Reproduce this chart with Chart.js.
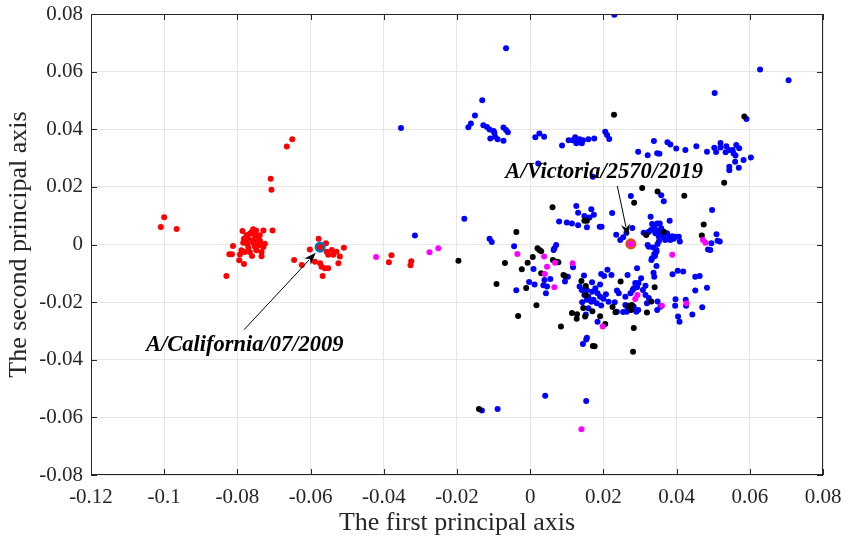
<!DOCTYPE html>
<html>
<head>
<meta charset="utf-8">
<script src="https://cdn.jsdelivr.net/npm/chart.js@4"></script>
<style>
  html, body { margin: 0; padding: 0; background: #fff; }
  #wrap { width: 846px; height: 541px; }
</style>
</head>
<body>
<div id="wrap"><canvas id="pcaChart" width="846" height="541"></canvas></div>
<script>
// axis ticks
const xTicks = [-0.12, -0.1, -0.08, -0.06, -0.04, -0.02, 0, 0.02, 0.04, 0.06, 0.08];
const xTickLabels = ['-0.12', '-0.1', '-0.08', '-0.06', '-0.04', '-0.02', '0', '0.02', '0.04', '0.06', '0.08'];
const yTicks = [-0.08, -0.06, -0.04, -0.02, 0, 0.02, 0.04, 0.06, 0.08];
const yTickLabels = ['-0.08', '-0.06', '-0.04', '-0.02', '0', '0.02', '0.04', '0.06', '0.08'];

// highlighted strains
const californiaPoint = [-0.0574, -0.0009];
const victoriaPoint = [0.0275, 0.0002];

// series, [first axis, second axis]
const redPoints = [
  [-0.0650,0.0365],[-0.0665,0.0340],[-0.0709,0.0228],[-0.0707,0.0190],
  [-0.1000,0.0095],[-0.1009,0.0061],[-0.0966,0.0054],
  [-0.0786,0.0047],[-0.0757,0.0053],[-0.0749,0.0049],[-0.0729,0.0049],[-0.0704,0.0049],
  [-0.0775,0.0032],[-0.0766,0.0037],[-0.0752,0.0032],[-0.0739,0.0032],
  [-0.0782,0.0020],[-0.0771,0.0020],[-0.0758,0.0015],[-0.0743,0.0020],
  [-0.0725,0.0003],[-0.0784,0.0006],[-0.0773,0.0003],[-0.0757,0.0006],[-0.0740,-0.0003],[-0.0729,-0.0009],
  [-0.0812,-0.0005],[-0.0789,-0.0020],[-0.0780,-0.0026],[-0.0766,-0.0026],[-0.0748,-0.0020],[-0.0734,-0.0026],
  [-0.0822,-0.0034],[-0.0815,-0.0034],[-0.0793,-0.0035],[-0.0734,-0.0041],[-0.0795,-0.0055],[-0.0782,-0.0068],[-0.0830,-0.0109],
  [-0.0762,0.0042],[-0.0745,0.0010],[-0.0770,-0.0010],[-0.0752,-0.0008],[-0.0738,0.0012],[-0.0760,-0.0040],
  [-0.0578,0.0020],[-0.0558,0.0004],[-0.0602,-0.0017],[-0.0509,-0.0011],[-0.0556,-0.0025],[-0.0542,-0.0019],
  [-0.0529,-0.0025],[-0.0520,-0.0042],[-0.0524,-0.0065],[-0.0552,-0.0036],[-0.0538,-0.0036],[-0.0645,-0.0054],
  [-0.0624,-0.0071],[-0.0588,-0.0060],[-0.0574,-0.0065],[-0.0570,-0.0077],[-0.0561,-0.0082],[-0.0552,-0.0082],
  [-0.0567,-0.0109],
  [-0.0379,-0.0037],[-0.0386,-0.0062],[-0.0325,-0.0058],[-0.0327,-0.0072]
];

const magentaPoints = [
  [-0.0421,-0.0043],[-0.0275,-0.0027],[-0.0251,-0.0013],[-0.0035,-0.0033],[0.0038,-0.0042],[0.0046,-0.0077],
  [0.0068,-0.0063],[0.0116,-0.0065],[0.0040,-0.0102],[0.0066,-0.0148],[0.0293,-0.0175],[0.0287,-0.0189],
  [0.0198,-0.0285],[0.0388,-0.0036],[0.0360,-0.0213],[0.0427,-0.0204],[0.0472,0.0016],[0.0479,0.0006],
  [0.0140,-0.0641]
];

const blackPoints = [
  [-0.0196,-0.0056],[0.0229,0.0450],[0.0585,0.0444],[0.0061,0.0129],[0.0284,0.0145],[0.0530,0.0214],
  [0.0306,0.0196],[0.0348,0.0184],[0.0421,0.0169],[0.0148,0.0082],[0.0155,0.0082],[-0.0038,0.0043],
  [0.0020,-0.0013],[0.0025,-0.0019],[0.0030,-0.0023],[-0.0069,-0.0064],[-0.0007,-0.0063],[0.0007,-0.0043],
  [-0.0023,-0.0086],[0.0062,-0.0054],[0.0073,-0.0060],[0.0077,-0.0062],[0.0030,-0.0100],[0.0091,-0.0106],
  [0.0095,-0.0109],[-0.0092,-0.0137],[-0.0011,-0.0151],[0.0017,-0.0211],[-0.0033,-0.0248],
  [0.0140,-0.0127],[0.0152,-0.0144],[0.0145,-0.0220],[0.0247,-0.0128],[0.0225,-0.0217],[0.0233,-0.0235],
  [0.0269,-0.0213],[0.0276,-0.0227],[0.0128,-0.0242],[0.0114,-0.0238],[0.0127,-0.0258],[0.0170,-0.0232],
  [0.0191,-0.0249],[0.0205,-0.0276],[0.0084,-0.0285],[0.0283,-0.0290],[0.0150,-0.0250],
  [0.0340,-0.0148],[0.0152,-0.0175],[0.0278,-0.0210],[0.0331,-0.0198],[0.0319,-0.0236],
  [0.0365,0.0044],[0.0317,0.0033],[0.0474,0.0069],[0.0469,0.0031],
  [0.0171,-0.0352],[0.0176,-0.0353],[0.0281,-0.0372],[-0.0140,-0.0571]
];

const bluePoints = [
  [0.0230,0.0797],[-0.0066,0.0681],[0.0628,0.0607],[0.0706,0.0570],[0.0504,0.0526],[0.0591,0.0436],
  [-0.0131,0.0501],[-0.0151,0.0448],[-0.0162,0.0420],[-0.0169,0.0407],[-0.0128,0.0414],[-0.0118,0.0408],
  [-0.0111,0.0399],[-0.0100,0.0394],[-0.0098,0.0388],[-0.0109,0.0368],[-0.0096,0.0374],[-0.0089,0.0365],
  [-0.0073,0.0360],[-0.0073,0.0406],[-0.0066,0.0397],[-0.0061,0.0390],
  [0.0014,0.0372],[0.0025,0.0385],[0.0038,0.0374],[0.0087,0.0344],[0.0105,0.0362],[0.0116,0.0362],
  [0.0123,0.0372],[0.0128,0.0362],[0.0126,0.0351],[0.0135,0.0365],[0.0141,0.0351],[0.0144,0.0362],
  [0.0159,0.0365],[0.0175,0.0368],[0.0205,0.0391],[0.0210,0.0380],[0.0216,0.0366],
  [0.0295,0.0322],[0.0022,0.0281],[0.0171,0.0235],[-0.0180,0.0089],[0.0126,0.0134],[0.0131,0.0110],
  [0.0148,0.0099],[0.0167,0.0122],[0.0174,0.0103],[0.0162,0.0094],[0.0224,0.0109],[0.0275,0.0168],
  [0.0321,0.0310],[0.0338,0.0359],[0.0347,0.0317],[0.0353,0.0315],[0.0375,0.0355],[0.0383,0.0347],
  [0.0399,0.0333],[0.0424,0.0328],[0.0454,0.0341],[0.0483,0.0322],[0.0503,0.0336],[0.0508,0.0321],
  [0.0520,0.0352],[0.0520,0.0337],[0.0536,0.0341],[0.0534,0.0320],[0.0544,0.0328],[0.0553,0.0328],
  [0.0556,0.0316],[0.0561,0.0309],[0.0563,0.0345],[0.0571,0.0334],[0.0560,0.0287],[0.0544,0.0270],
  [0.0544,0.0258],[0.0570,0.0266],[0.0583,0.0293],[0.0603,0.0302],
  [0.0358,0.0171],[0.0365,0.0150],[0.0497,0.0120],[0.0329,0.0096],[0.0381,0.0082],
  [0.0079,0.0080],[0.0100,0.0076],[0.0114,0.0073],[0.0131,0.0067],[0.0155,0.0060],[0.0190,0.0062],
  [0.0195,0.0062],[0.0235,0.0034],[0.0246,0.0016],[0.0254,0.0025],[0.0263,0.0041],[0.0279,0.0057],
  [-0.0111,0.0020],[-0.0105,0.0009],[-0.0044,-0.0006],[0.0066,-0.0013],[0.0071,-0.0002],[0.0064,-0.0019],
  [0.0117,-0.0079],[0.0009,-0.0085],[0.0039,-0.0123],[0.0055,-0.0120],[0.0103,-0.0112],[0.0095,-0.0128],
  [-0.0003,-0.0130],[0.0012,-0.0139],[-0.0038,-0.0159],[0.0036,-0.0141],[0.0046,-0.0146],[0.0043,-0.0169],
  [0.0147,-0.0108],[0.0169,-0.0131],[0.0194,-0.0102],[0.0202,-0.0109],[0.0211,-0.0088],[0.0222,-0.0106],
  [0.0191,-0.0139],[0.0135,-0.0146],[0.0141,-0.0158],[0.0155,-0.0158],[0.0169,-0.0164],[0.0178,-0.0152],
  [0.0184,-0.0169],[0.0191,-0.0181],[0.0200,-0.0188],[0.0207,-0.0173],[0.0214,-0.0199],[0.0231,-0.0200],
  [0.0237,-0.0160],[0.0242,-0.0169],[0.0260,-0.0181],[0.0266,-0.0106],[0.0287,-0.0134],[0.0292,-0.0148],
  [0.0280,-0.0158],[0.0274,-0.0169],[0.0148,-0.0175],[0.0159,-0.0181],[0.0173,-0.0192],[0.0182,-0.0204],
  [0.0194,-0.0212],[0.0155,-0.0192],[0.0142,-0.0200],[0.0167,-0.0199],[0.0159,-0.0221],[0.0260,-0.0210],
  [0.0265,-0.0216],[0.0283,-0.0216],[0.0295,-0.0227],[0.0237,-0.0233],[0.0254,-0.0234],[0.0152,-0.0243],
  [0.0155,-0.0324],[0.0184,-0.0268],
  [0.0345,-0.0025],[0.0339,-0.0033],[0.0333,-0.0048],[0.0331,-0.0054],[0.0345,-0.0075],[0.0337,-0.0098],
  [0.0339,-0.0112],[0.0389,-0.0103],[0.0403,-0.0091],[0.0418,-0.0094],[0.0451,-0.0112],[0.0463,-0.0109],
  [0.0483,-0.0150],[0.0451,-0.0160],[0.0397,-0.0190],[0.0396,-0.0213],[0.0404,-0.0250],[0.0408,-0.0268],
  [0.0443,-0.0243],[0.0470,-0.0218],[0.0292,-0.0082],[0.0303,-0.0117],[0.0296,-0.0134],[0.0283,-0.0152],
  [0.0315,-0.0143],[0.0308,-0.0158],[0.0315,-0.0175],[0.0324,-0.0186],[0.0319,-0.0204],[0.0348,-0.0198],
  [0.0356,-0.0216],[0.0347,-0.0227],[0.0264,-0.0233],[0.0290,-0.0233],
  [0.0333,0.0071],[0.0347,0.0073],[0.0354,0.0073],[0.0330,0.0050],[0.0337,0.0056],[0.0342,0.0039],
  [0.0348,0.0048],[0.0356,0.0044],[0.0358,0.0056],[0.0374,0.0039],[0.0381,0.0027],[0.0388,0.0029],
  [0.0397,0.0027],[0.0406,0.0027],[0.0409,0.0010],[0.0310,0.0041],[0.0319,0.0039],[0.0324,0.0044],
  [0.0365,0.0025],[0.0369,0.0016],[0.0383,0.0016],[0.0351,0.0029],[0.0321,-0.0002],[0.0324,-0.0008],
  [0.0348,0.0002],[0.0345,-0.0019],
  [0.0340,0.0062],[0.0362,0.0035],[0.0352,0.0012],[0.0392,0.0020],[0.0336,-0.0010],[0.0341,-0.0040],
  [0.0486,-0.0017],[0.0492,-0.0019],[0.0495,0.0004],[0.0509,0.0036],[0.0512,0.0013],[0.0518,0.0010],
  [0.0425,-0.0192],[0.0426,-0.0213],
  [0.0153,-0.0330],[0.0144,-0.0345],[0.0041,-0.0525],[0.0153,-0.0543],[-0.0132,-0.0576],[-0.0089,-0.0571],
  [-0.0315,0.0031],[-0.0353,0.0404]
];

// labels with arrows (data units)
const annotations = [
  { text: 'A/California/07/2009', at: [-0.0780, -0.0351], from: [-0.0782, -0.0296], to: [-0.0586, -0.0029] },
  { text: 'A/Victoria/2570/2019', at: [0.0202, 0.0250], from: [0.0238, 0.0203], to: [0.0267, 0.0029] }
];

const AXIS_COLOR = '#262626';
const SERIF = '"Liberation Serif", "Times New Roman", serif';

function toXY(pairs){ return pairs.map(p => ({ x: p[0], y: p[1] })); }

function dots(label, pairs, color, order){
  return {
    label, data: toXY(pairs), order,
    backgroundColor: color, borderColor: color,
    pointRadius: 3, pointBorderWidth: 0, pointHoverRadius: 3
  };
}

const overlay = {
  id: 'overlay',
  afterDatasetsDraw(chart){
    const { ctx, chartArea: a, scales: { x, y } } = chart;
    ctx.save();
    ctx.strokeStyle = AXIS_COLOR;
    ctx.lineWidth = 1;
    ctx.strokeRect(Math.round(a.left) + 0.5, Math.round(a.top) + 0.5,
                   Math.round(a.right - a.left) - 1, Math.round(a.bottom - a.top) - 1);
    // inward ticks on all four sides
    ctx.beginPath();
    xTicks.forEach(v => {
      const px = Math.round(x.getPixelForValue(v)) + 0.5;
      ctx.moveTo(px, a.bottom); ctx.lineTo(px, a.bottom - 6);
      ctx.moveTo(px, a.top); ctx.lineTo(px, a.top + 6);
    });
    yTicks.forEach(v => {
      const py = Math.round(y.getPixelForValue(v)) + 0.5;
      ctx.moveTo(a.left, py); ctx.lineTo(a.left + 6, py);
      ctx.moveTo(a.right, py); ctx.lineTo(a.right - 6, py);
    });
    ctx.stroke();

    // labelled strains
    ctx.fillStyle = '#000';
    ctx.strokeStyle = '#000';
    ctx.font = 'italic bold 22.5px ' + SERIF;
    ctx.textAlign = 'center';
    ctx.textBaseline = 'middle';
    annotations.forEach(an => {
      ctx.fillText(an.text, x.getPixelForValue(an.at[0]), y.getPixelForValue(an.at[1]));
      const x0 = x.getPixelForValue(an.from[0]), y0 = y.getPixelForValue(an.from[1]);
      const x1 = x.getPixelForValue(an.to[0]), y1 = y.getPixelForValue(an.to[1]);
      const ang = Math.atan2(y1 - y0, x1 - x0);
      const len = 12, half = 4.5;
      ctx.lineWidth = 1;
      ctx.beginPath();
      ctx.moveTo(x0, y0);
      ctx.lineTo(x1 - Math.cos(ang) * len * 0.8, y1 - Math.sin(ang) * len * 0.8);
      ctx.stroke();
      const bx = x1 - Math.cos(ang) * len, by = y1 - Math.sin(ang) * len;
      const nx = -Math.sin(ang) * half, ny = Math.cos(ang) * half;
      ctx.beginPath();
      ctx.moveTo(x1, y1);
      ctx.lineTo(bx + nx, by + ny);
      ctx.lineTo(x1 - Math.cos(ang) * len * 0.7, y1 - Math.sin(ang) * len * 0.7);
      ctx.lineTo(bx - nx, by - ny);
      ctx.closePath();
      ctx.fill();
    });
    ctx.restore();
  }
};

new Chart(document.getElementById('pcaChart'), {
  type: 'scatter',
  data: {
    datasets: [
      { label: 'A/Victoria/2570/2019', data: toXY([victoriaPoint]), order: 0,
        backgroundColor: '#ff00ff', borderColor: '#d95319', pointRadius: 4.3, pointBorderWidth: 2.5 },
      { label: 'A/California/07/2009', data: toXY([californiaPoint]), order: 1,
        backgroundColor: '#ff0000', borderColor: '#0072bd', pointRadius: 4.3, pointBorderWidth: 2.5 },
      dots('magenta', magentaPoints, '#ff00ff', 2),
      dots('black', blackPoints, '#000000', 3),
      dots('blue', bluePoints, '#0000ff', 4),
      dots('red', redPoints, '#ff0000', 5)
    ]
  },
  options: {
    responsive: false,
    animation: false,
    devicePixelRatio: 1,
    layout: { padding: { left: 0, top: 14, right: 23, bottom: 0 } },
    plugins: { legend: { display: false }, tooltip: { enabled: false } },
    scales: {
      x: {
        type: 'linear', min: -0.12, max: 0.08,
        afterBuildTicks: s => { s.ticks = xTicks.map(v => ({ value: v })); },
        afterFit: s => { s.height = 66; s.paddingLeft = 0; s.paddingRight = 0; },
        grid: { color: '#e6e6e6', drawTicks: false },
        border: { display: false },
        ticks: { color: AXIS_COLOR, padding: 10, maxRotation: 0, autoSkip: false,
                 font: { family: SERIF, size: 21 },
                 callback: (v, i) => xTickLabels[i] },
        title: { display: true, text: 'The first principal axis', color: AXIS_COLOR,
                 font: { family: SERIF, size: 26 }, padding: { top: 2, bottom: 2 } }
      },
      y: {
        type: 'linear', min: -0.08, max: 0.08,
        afterBuildTicks: s => { s.ticks = yTicks.map(v => ({ value: v })); },
        afterFit: s => { s.width = 91; s.paddingTop = 0; s.paddingBottom = 0; },
        grid: { color: '#e6e6e6', drawTicks: false },
        border: { display: false },
        ticks: { color: AXIS_COLOR, padding: 8, autoSkip: false,
                 font: { family: SERIF, size: 21 },
                 callback: (v, i) => yTickLabels[i] },
        title: { display: true, text: 'The second principal axis', color: AXIS_COLOR,
                 font: { family: SERIF, size: 26 }, padding: { top: 4, bottom: 4 } }
      }
    }
  },
  plugins: [overlay]
});
</script>
</body>
</html>
